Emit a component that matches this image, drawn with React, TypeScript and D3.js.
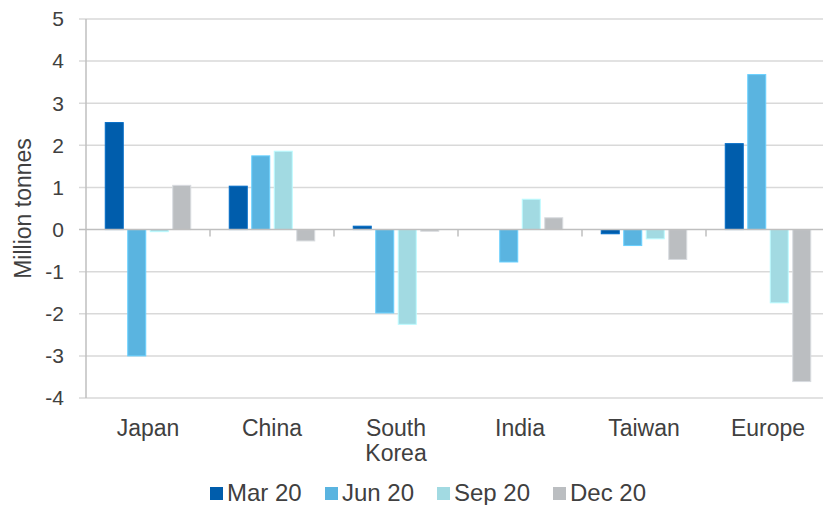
import * as d3 from 'd3';
import React, { useEffect, useRef } from 'react';

const W = 823;
const H = 505;
const FONT = '"Liberation Sans", Arial, sans-serif';
const TEXT_COLOR = '#404040';

const categories = ['Japan', 'China', 'South Korea', 'India', 'Taiwan', 'Europe'];
const seriesNames = ['Mar 20', 'Jun 20', 'Sep 20', 'Dec 20'];
const seriesColors = ['#005DAC', '#5AB4E0', '#A2DAE2', '#BBBEC1'];

const mar20 = [2.54, 1.03, 0.08, 0, -0.1, 2.04];
const jun20 = [-3.0, 1.75, -1.98, -0.77, -0.38, 3.68];
const sep20 = [-0.05, 1.86, -2.25, 0.72, -0.22, -1.74];
const dec20 = [1.05, -0.27, -0.04, 0.28, -0.71, -3.61];

const yTicks = [-4, -3, -2, -1, 0, 1, 2, 3, 4, 5];

const margin = { top: 19, left: 86, right: -7, bottom: 107 };

export default function App() {
  const ref = useRef<SVGSVGElement>(null);

  useEffect(() => {
    const svg = d3.select(ref.current);
    svg.selectAll('*').remove();

    const values = [mar20, jun20, sep20, dec20];
    const rows = categories.map((c, i) => ({
      cat: c,
      vals: seriesNames.map((s, k) => ({ key: s, value: values[k][i], color: seriesColors[k] })),
    }));

    const x0 = d3.scaleBand().domain(categories).range([margin.left, W - margin.right]).padding(0);
    const groupW = 90;
    const inset = (x0.bandwidth() - groupW) / 2;
    const x1 = d3
      .scaleBand()
      .domain(seriesNames)
      .range([inset, inset + groupW])
      .paddingInner(0.2)
      .paddingOuter(0.1);
    const y = d3.scaleLinear().domain([-4, 5]).range([H - margin.bottom, margin.top]);

    // gridlines
    svg
      .append('g')
      .selectAll('line')
      .data(yTicks.filter(t => t !== 0))
      .enter()
      .append('line')
      .attr('x1', margin.left - 7)
      .attr('x2', W)
      .attr('y1', d => y(d))
      .attr('y2', d => y(d))
      .attr('stroke', '#D9D9D9')
      .attr('stroke-width', 1.5);

    // y tick labels
    svg
      .append('g')
      .selectAll('text')
      .data(yTicks)
      .enter()
      .append('text')
      .attr('x', 64)
      .attr('y', d => y(d))
      .attr('dy', '0.35em')
      .attr('text-anchor', 'end')
      .style('font-family', FONT)
      .style('font-size', '21px')
      .attr('fill', TEXT_COLOR)
      .text(d => d3.format('d')(d).replace('−', '-'));

    // bars
    const groups = svg
      .append('g')
      .selectAll('g')
      .data(rows)
      .enter()
      .append('g')
      .attr('transform', d => `translate(${x0(d.cat)},0)`);

    groups
      .selectAll('rect')
      .data(d => d.vals.filter(v => v.value !== 0))
      .enter()
      .append('rect')
      .attr('x', d => x1(d.key) as number)
      .attr('width', x1.bandwidth())
      .attr('y', d => y(Math.max(0, d.value)))
      .attr('height', d => Math.abs(y(d.value) - y(0)))
      .attr('fill', d => d.color)
      .attr('stroke', d => d3.color(d.color)!.brighter(0.4).toString())
      .attr('stroke-width', 1);

    // zero axis
    svg
      .append('line')
      .attr('x1', margin.left - 7)
      .attr('x2', W)
      .attr('y1', y(0))
      .attr('y2', y(0))
      .attr('stroke', '#BFBFBF')
      .attr('stroke-width', 1.5);

    svg
      .append('g')
      .selectAll('line')
      .data(categories.slice(1))
      .enter()
      .append('line')
      .attr('x1', d => x0(d) as number)
      .attr('x2', d => x0(d) as number)
      .attr('y1', y(0))
      .attr('y2', y(0) + 7)
      .attr('stroke', '#BFBFBF')
      .attr('stroke-width', 1.5);

    // y axis line
    svg
      .append('line')
      .attr('x1', margin.left)
      .attr('x2', margin.left)
      .attr('y1', y(5))
      .attr('y2', y(-4))
      .attr('stroke', '#BFBFBF')
      .attr('stroke-width', 1.5);

    // category labels
    const labels = svg
      .append('g')
      .selectAll('text')
      .data(categories)
      .enter()
      .append('text')
      .attr('x', d => (x0(d) as number) + x0.bandwidth() / 2)
      .attr('y', 436)
      .attr('text-anchor', 'middle')
      .style('font-family', FONT)
      .style('font-size', '23px')
      .attr('fill', TEXT_COLOR);
    labels.each(function (d) {
      const parts = d === 'South Korea' ? ['South', 'Korea'] : [d];
      const t = d3.select(this);
      parts.forEach((p, i) => {
        t.append('tspan')
          .attr('x', (x0(d) as number) + x0.bandwidth() / 2)
          .attr('dy', i === 0 ? 0 : 25)
          .text(p);
      });
    });

    // y title
    svg
      .append('text')
      .attr('transform', `translate(31,${(y(5) + y(-4)) / 2}) rotate(-90)`)
      .attr('text-anchor', 'middle')
      .style('font-family', FONT)
      .style('font-size', '23px')
      .attr('fill', TEXT_COLOR)
      .text('Million tonnes');

    // legend
    const legendX = [210, 325, 437, 553];
    const legend = svg
      .append('g')
      .selectAll('g')
      .data(seriesNames)
      .enter()
      .append('g')
      .attr('transform', (d, i) => `translate(${legendX[i]},0)`);
    legend
      .append('rect')
      .attr('x', 0)
      .attr('y', 487)
      .attr('width', 13)
      .attr('height', 13)
      .attr('fill', (d, i) => seriesColors[i]);
    legend
      .append('text')
      .attr('x', 17)
      .attr('y', 501)
      .style('font-family', FONT)
      .style('font-size', '24px')
      .attr('fill', TEXT_COLOR)
      .text(d => d);
  }, []);

  return (
    <svg
      ref={ref}
      width={W}
      height={H}
      viewBox={`0 0 ${W} ${H}`}
      style={{ position: 'absolute', left: 0, top: 0, background: '#fff' }}
    />
  );
}
